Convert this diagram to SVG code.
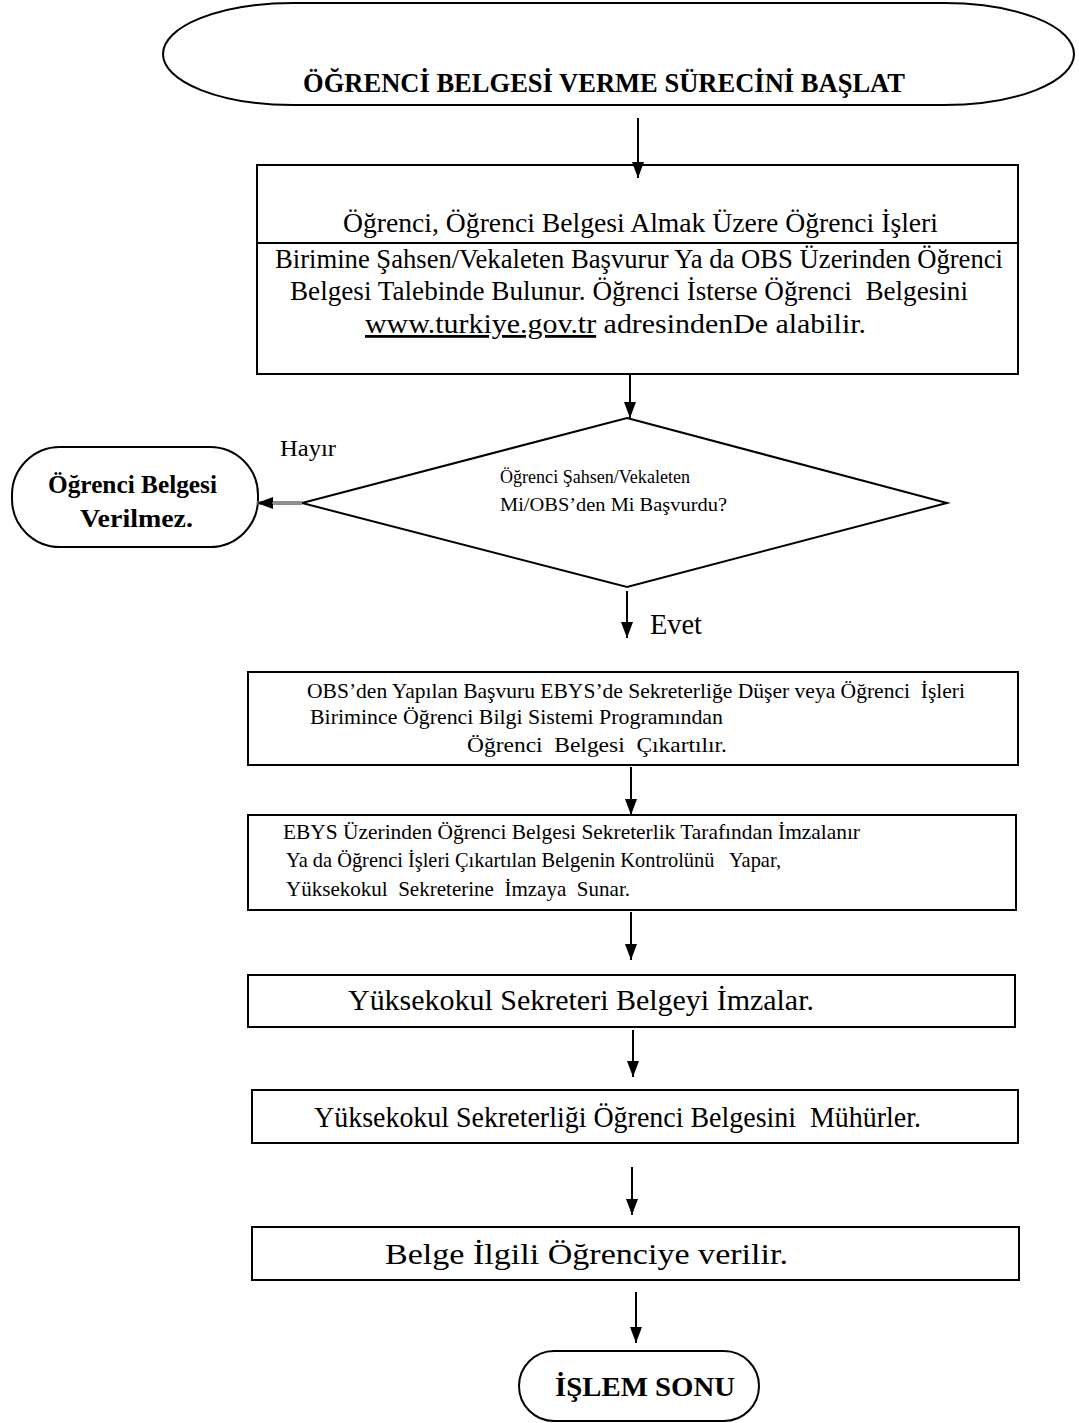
<svg xmlns="http://www.w3.org/2000/svg" width="1079" height="1423" viewBox="0 0 1079 1423">
<style>
.shape{fill:#fff;stroke:#000;stroke-width:2}
.t{font-family:"Liberation Serif","Times New Roman",serif;fill:#000;white-space:pre}
.b{font-weight:bold}
.conn{stroke:#000;stroke-width:2;fill:none}
</style>
<defs>
<marker id="ah" viewBox="0 0 16 12" refX="16" refY="6" markerWidth="16" markerHeight="12" markerUnits="userSpaceOnUse" orient="auto">
<path d="M0,0 L16,6 L0,12 z" fill="#000"/>
</marker>
</defs>
<rect width="1079" height="1423" fill="#fff"/>
<g id="start">
<rect class="shape" x="163" y="3" width="911" height="102" rx="130" ry="51" stroke-width="2.5"/>
<text class="t b" x="303" y="92" font-size="27" textLength="602" lengthAdjust="spacingAndGlyphs">ÖĞRENCİ BELGESİ VERME SÜRECİNİ BAŞLAT</text>
</g>
<g id="apply">
<rect class="shape" x="257" y="165" width="761" height="209"/>
<line x1="257" y1="243" x2="1018" y2="243" stroke="#000" stroke-width="2"/>
<text class="t" x="343" y="232" font-size="28" textLength="595" lengthAdjust="spacingAndGlyphs">Öğrenci, Öğrenci Belgesi Almak Üzere Öğrenci İşleri</text>
<text class="t" x="275" y="268" font-size="28" textLength="728" lengthAdjust="spacingAndGlyphs">Birimine Şahsen/Vekaleten Başvurur Ya da OBS Üzerinden Öğrenci</text>
<text class="t" x="290" y="300" font-size="28" textLength="678" lengthAdjust="spacingAndGlyphs">Belgesi Talebinde Bulunur. Öğrenci İsterse Öğrenci  Belgesini</text>
<text class="t" x="365" y="333" font-size="28" textLength="501" lengthAdjust="spacingAndGlyphs"><tspan text-decoration="underline">www.turkiye.gov.tr</tspan> adresindenDe alabilir.</text>
</g>
<g id="decision">
<polygon class="shape" points="627,418 947,503 627,587 302,503"/>
<text class="t" x="500" y="483" font-size="19" textLength="190" lengthAdjust="spacingAndGlyphs">Öğrenci Şahsen/Vekaleten</text>
<text class="t" x="500" y="511" font-size="19" textLength="227" lengthAdjust="spacingAndGlyphs">Mi/OBS’den Mi Başvurdu?</text>
</g>
<text class="t" x="280" y="456" font-size="24" textLength="56" lengthAdjust="spacingAndGlyphs">Hayır</text>
<text class="t" x="650" y="634" font-size="29" textLength="52" lengthAdjust="spacingAndGlyphs">Evet</text>
<g id="reject">
<rect class="shape" x="12" y="447" width="246" height="100" rx="48" ry="48"/>
<text class="t b" x="48" y="493" font-size="25" textLength="169" lengthAdjust="spacingAndGlyphs">Öğrenci Belgesi</text>
<text class="t b" x="80" y="527" font-size="25" textLength="113" lengthAdjust="spacingAndGlyphs">Verilmez.</text>
</g>
<g id="extract">
<rect class="shape" x="248" y="672" width="770" height="93"/>
<text class="t" x="307" y="698" font-size="22" textLength="658" lengthAdjust="spacingAndGlyphs">OBS’den Yapılan Başvuru EBYS’de Sekreterliğe Düşer veya Öğrenci  İşleri</text>
<text class="t" x="310" y="724" font-size="22" textLength="413" lengthAdjust="spacingAndGlyphs">Birimince Öğrenci Bilgi Sistemi Programından</text>
<text class="t" x="467" y="752" font-size="22" textLength="260" lengthAdjust="spacingAndGlyphs">Öğrenci  Belgesi  Çıkartılır.</text>
</g>
<g id="check">
<rect class="shape" x="248" y="815" width="768" height="95"/>
<text class="t" x="283" y="839" font-size="21" textLength="577" lengthAdjust="spacingAndGlyphs">EBYS Üzerinden Öğrenci Belgesi Sekreterlik Tarafından İmzalanır</text>
<text class="t" x="286" y="867" font-size="21" textLength="495" lengthAdjust="spacingAndGlyphs">Ya da Öğrenci İşleri Çıkartılan Belgenin Kontrolünü   Yapar,</text>
<text class="t" x="286" y="896" font-size="21" textLength="344" lengthAdjust="spacingAndGlyphs">Yüksekokul  Sekreterine  İmzaya  Sunar.</text>
</g>
<g id="sign">
<rect class="shape" x="248" y="975" width="767" height="52"/>
<text class="t" x="348" y="1010" font-size="30" textLength="466" lengthAdjust="spacingAndGlyphs">Yüksekokul Sekreteri Belgeyi İmzalar.</text>
</g>
<g id="seal">
<rect class="shape" x="252" y="1090" width="766" height="53"/>
<text class="t" x="314" y="1127" font-size="30" textLength="607" lengthAdjust="spacingAndGlyphs">Yüksekokul Sekreterliği Öğrenci Belgesini  Mühürler.</text>
</g>
<g id="deliver">
<rect class="shape" x="252" y="1227" width="767" height="53"/>
<text class="t" x="385" y="1264" font-size="30" textLength="403" lengthAdjust="spacingAndGlyphs">Belge İlgili Öğrenciye verilir.</text>
</g>
<g id="end">
<rect class="shape" x="519" y="1351" width="240" height="70" rx="35" ry="35"/>
<text class="t b" x="555" y="1396" font-size="28" textLength="180" lengthAdjust="spacingAndGlyphs">İŞLEM SONU</text>
</g>
<g id="connectors">
<line class="conn" x1="638" y1="118" x2="638" y2="178" marker-end="url(#ah)"/>
<line class="conn" x1="630" y1="375" x2="630" y2="418" marker-end="url(#ah)"/>
<line x1="302" y1="503" x2="257" y2="503" stroke="#666" stroke-width="3.5" marker-end="url(#ah)"/>
<line x1="302" y1="503" x2="272" y2="503" stroke="#bbb" stroke-width="1"/>
<line class="conn" x1="627" y1="591" x2="627" y2="638" marker-end="url(#ah)"/>
<line class="conn" x1="631" y1="767" x2="631" y2="815" marker-end="url(#ah)"/>
<line class="conn" x1="631" y1="912" x2="631" y2="960" marker-end="url(#ah)"/>
<line class="conn" x1="633" y1="1030" x2="633" y2="1077" marker-end="url(#ah)"/>
<line class="conn" x1="632" y1="1167" x2="632" y2="1215" marker-end="url(#ah)"/>
<line class="conn" x1="636" y1="1292" x2="636" y2="1343" marker-end="url(#ah)"/>
</g>
</svg>
